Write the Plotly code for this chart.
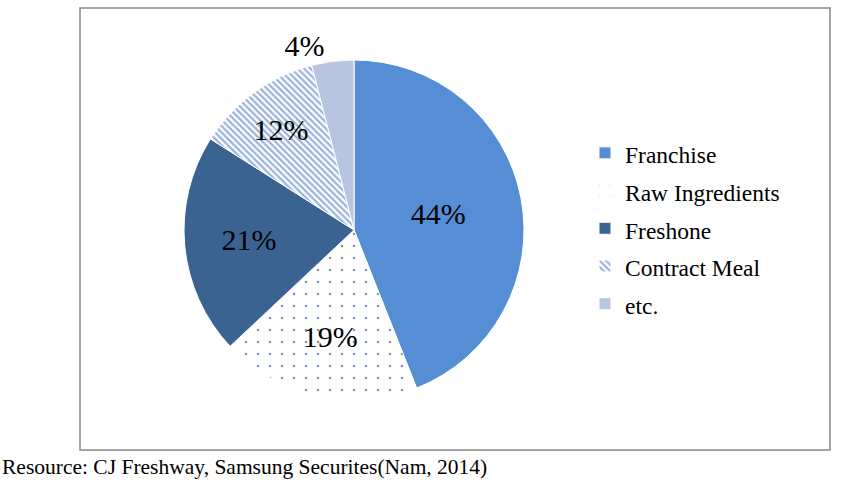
import plotly.graph_objects as go

labels = ["Franchise", "Raw Ingredients", "Freshone", "Contract Meal", "etc."]
values = [44, 19, 21, 12, 4]
text_labels = ["44%", "19%", "21%", "12%", "4%"]

colors = ["#558ED5", "#FFFFFF", "#3A6392", "#FFFFFF", "#B9C5E0"]
shapes_pat = ["", ".", "", "\\", ""]
fg = ["#558ED5", "#7F93B5", "#3A6392", "#9AB4DA", "#B9C5E0"]
textpos = ["inside", "inside", "inside", "inside", "outside"]

W, H = 848, 489
cx, cy, r = 354, 230, 170
SERIF = "Liberation Serif"

legend_labels = ['<span style="font-size:23.5px">%s</span>' % s for s in labels]

fig = go.Figure(go.Pie(
    labels=legend_labels,
    values=values,
    text=text_labels,
    textinfo="text",
    textposition=textpos,
    sort=False,
    direction="clockwise",
    rotation=0,
    insidetextorientation="horizontal",
    marker=dict(
        colors=colors,
        line=dict(color="white", width=1),
        pattern=dict(shape=shapes_pat, fgcolor=fg, bgcolor=colors,
                     size=[8, 12, 8, 4.5, 8], solidity=[0.3, 0.04, 0.3, 0.5, 0.3],
                     fillmode="replace"),
    ),
    textfont=dict(family=SERIF, size=30, color="black"),
    domain=dict(x=[(cx - r) / W, (cx + r) / W], y=[1 - (cy + r) / H, 1 - (cy - r) / H]),
    hoverinfo="skip",
))

fig.update_layout(
    width=W, height=H,
    margin=dict(l=0, r=0, t=0, b=0),
    paper_bgcolor="white",
    plot_bgcolor="white",
    font=dict(family=SERIF, color="black"),
    showlegend=True,
    legend=dict(x=585 / W, y=1 - 129 / H, xanchor="left", yanchor="top",
                font=dict(family=SERIF, size=26.7, color="black"),
                itemwidth=30, tracegroupgap=0, bgcolor="rgba(0,0,0,0)"),
    shapes=[dict(type="rect", xref="paper", yref="paper",
                 x0=80 / W, x1=830 / W, y0=1 - 450 / H, y1=1 - 8 / H,
                 line=dict(color="#868686", width=1.5), fillcolor="rgba(0,0,0,0)", layer="below")],
    annotations=[dict(text="Resource: CJ Freshway, Samsung Securites(Nam, 2014)",
                      x=0, y=1 - 467 / H, xref="paper", yref="paper",
                      xanchor="left", yanchor="middle", showarrow=False,
                      font=dict(family=SERIF, size=21.5, color="black"))],
)

fig.write_html("out.html", config={"displayModeBar": False},
               post_script="document.body.style.margin='0';")
